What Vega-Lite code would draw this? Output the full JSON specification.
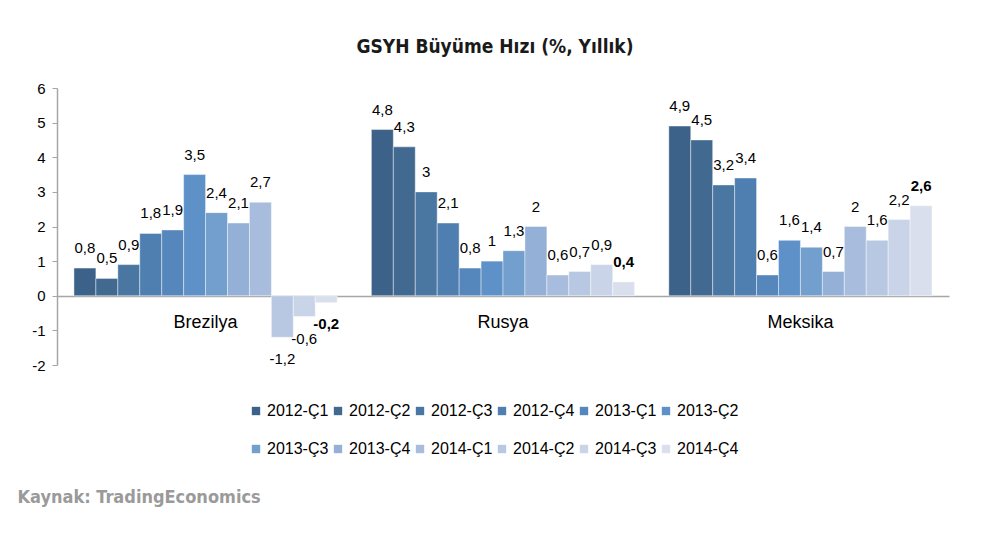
{
  "$schema": "https://vega.github.io/schema/vega-lite/v6.json",
  "width": 892,
  "height": 277,
  "autosize": {"type": "none"},
  "padding": {"left": 57, "top": 88, "right": 43, "bottom": 168},
  "background": "white",
  "config": {
    "locale": {"number": {"decimal": ",", "thousands": ".", "grouping": [3], "currency": ["", " TL"], "minus": "-"}},
    "view": {"stroke": null},
    "font": "Liberation Sans",
    "text": {"font": "Liberation Sans"},
    "axis": {"labelFont": "Liberation Sans"},
    "legend": {"labelFont": "Liberation Sans"}
  },
  "title": {"text": "GSYH Büyüme Hızı (%, Yıllık)", "font": "DejaVu Sans Condensed", "fontWeight": "bold", "fontSize": 19, "color": "#1a1a1a", "anchor": "middle", "offset": 24, "dx": -8},
  "data": {"values": [
    {"ulke": "Brezilya", "donem": "2012-Ç1", "deger": 0.8},
    {"ulke": "Brezilya", "donem": "2012-Ç2", "deger": 0.5},
    {"ulke": "Brezilya", "donem": "2012-Ç3", "deger": 0.9},
    {"ulke": "Brezilya", "donem": "2012-Ç4", "deger": 1.8},
    {"ulke": "Brezilya", "donem": "2013-Ç1", "deger": 1.9},
    {"ulke": "Brezilya", "donem": "2013-Ç2", "deger": 3.5},
    {"ulke": "Brezilya", "donem": "2013-Ç3", "deger": 2.4},
    {"ulke": "Brezilya", "donem": "2013-Ç4", "deger": 2.1},
    {"ulke": "Brezilya", "donem": "2014-Ç1", "deger": 2.7},
    {"ulke": "Brezilya", "donem": "2014-Ç2", "deger": -1.2},
    {"ulke": "Brezilya", "donem": "2014-Ç3", "deger": -0.6},
    {"ulke": "Brezilya", "donem": "2014-Ç4", "deger": -0.2},
    {"ulke": "Rusya", "donem": "2012-Ç1", "deger": 4.8},
    {"ulke": "Rusya", "donem": "2012-Ç2", "deger": 4.3},
    {"ulke": "Rusya", "donem": "2012-Ç3", "deger": 3},
    {"ulke": "Rusya", "donem": "2012-Ç4", "deger": 2.1},
    {"ulke": "Rusya", "donem": "2013-Ç1", "deger": 0.8},
    {"ulke": "Rusya", "donem": "2013-Ç2", "deger": 1},
    {"ulke": "Rusya", "donem": "2013-Ç3", "deger": 1.3},
    {"ulke": "Rusya", "donem": "2013-Ç4", "deger": 2},
    {"ulke": "Rusya", "donem": "2014-Ç1", "deger": 0.6},
    {"ulke": "Rusya", "donem": "2014-Ç2", "deger": 0.7},
    {"ulke": "Rusya", "donem": "2014-Ç3", "deger": 0.9},
    {"ulke": "Rusya", "donem": "2014-Ç4", "deger": 0.4},
    {"ulke": "Meksika", "donem": "2012-Ç1", "deger": 4.9},
    {"ulke": "Meksika", "donem": "2012-Ç2", "deger": 4.5},
    {"ulke": "Meksika", "donem": "2012-Ç3", "deger": 3.2},
    {"ulke": "Meksika", "donem": "2012-Ç4", "deger": 3.4},
    {"ulke": "Meksika", "donem": "2013-Ç1", "deger": 0.6},
    {"ulke": "Meksika", "donem": "2013-Ç2", "deger": 1.6},
    {"ulke": "Meksika", "donem": "2013-Ç3", "deger": 1.4},
    {"ulke": "Meksika", "donem": "2013-Ç4", "deger": 0.7},
    {"ulke": "Meksika", "donem": "2014-Ç1", "deger": 2},
    {"ulke": "Meksika", "donem": "2014-Ç2", "deger": 1.6},
    {"ulke": "Meksika", "donem": "2014-Ç3", "deger": 2.2},
    {"ulke": "Meksika", "donem": "2014-Ç4", "deger": 2.6}
  ]},
  "encoding": {
    "x": {
      "field": "ulke", "type": "nominal", "sort": ["Brezilya", "Rusya", "Meksika"],
      "scale": {"paddingInner": 0.115, "paddingOuter": 0.057},
      "axis": {
        "orient": "bottom", "offset": -69, "ticks": false, "labelAngle": 0,
        "labelFont": "Liberation Sans", "labelFontSize": 18, "labelColor": "#000", "labelPadding": 17, "labelBaseline": "top",
        "domainColor": "#a6a6a6", "domainWidth": 1.5,
        "title": "Kaynak: TradingEconomics", "titleX": -40, "titleY": 206, "titleAlign": "left",
        "titleBaseline": "alphabetic", "titleAnchor": "start", "titleFont": "DejaVu Sans Condensed",
        "titleFontWeight": "bold", "titleFontSize": 18, "titleColor": "#9a9a9a"
      }
    },
    "xOffset": {
      "field": "donem", "type": "nominal",
      "sort": ["2012-Ç1", "2012-Ç2", "2012-Ç3", "2012-Ç4", "2013-Ç1", "2013-Ç2", "2013-Ç3", "2013-Ç4", "2014-Ç1", "2014-Ç2", "2014-Ç3", "2014-Ç4"],
      "scale": {"paddingInner": 0, "paddingOuter": 0}
    },
    "y": {
      "field": "deger", "type": "quantitative",
      "scale": {"domain": [-2, 6], "nice": false, "zero": false},
      "axis": {
        "values": [-2, -1, 0, 1, 2, 3, 4, 5, 6], "format": "d", "grid": false, "title": null,
        "domainColor": "#a6a6a6", "domainWidth": 1.5, "tickColor": "#a6a6a6", "tickSize": 5,
        "labelFont": "Liberation Sans", "labelFontSize": 15, "labelColor": "#000", "labelPadding": 7
      }
    }
  },
  "layer": [
    {
      "mark": {"type": "bar", "stroke": "#ffffff", "strokeWidth": 0.7, "strokeOpacity": 0.6},
      "encoding": {
        "color": {
          "field": "donem", "type": "nominal",
          "sort": ["2012-Ç1", "2012-Ç2", "2012-Ç3", "2012-Ç4", "2013-Ç1", "2013-Ç2", "2013-Ç3", "2013-Ç4", "2014-Ç1", "2014-Ç2", "2014-Ç3", "2014-Ç4"],
          "scale": {"range": ["#3d6289", "#42698f", "#4a76a2", "#4f7fb0", "#5687bc", "#5e91c8", "#729fcd", "#94b0d6", "#a8bddd", "#b9c8e2", "#c9d4e8", "#d9dfec"]},
          "legend": {
            "orient": "none", "legendX": 191, "legendY": 315, "direction": "horizontal", "columns": 6,
            "title": null, "symbolType": "square", "symbolSize": 70, "symbolStrokeWidth": 0,
            "labelFont": "Liberation Sans", "labelFontSize": 16, "labelColor": "#000", "rowPadding": 22, "columnPadding": 1, "labelOffset": 3
          }
        }
      }
    },
    {
      "transform": [{"filter": "datum.deger >= 0 && datum.donem != '2014-Ç4'"}],
      "mark": {"type": "text", "baseline": "bottom", "dy": -12, "font": "Liberation Sans", "fontSize": 15, "color": "#000"},
      "encoding": {"text": {"field": "deger", "type": "quantitative", "format": ".1~f"}}
    },
    {
      "transform": [{"filter": "datum.deger < 0 && datum.donem != '2014-Ç4'"}],
      "mark": {"type": "text", "baseline": "top", "dy": 15, "font": "Liberation Sans", "fontSize": 15, "color": "#000"},
      "encoding": {"text": {"field": "deger", "type": "quantitative", "format": ".1~f"}}
    },
    {
      "transform": [{"filter": "datum.deger >= 0 && datum.donem == '2014-Ç4'"}],
      "mark": {"type": "text", "baseline": "bottom", "dy": -12, "font": "Liberation Sans", "fontSize": 15, "fontWeight": "bold", "color": "#000"},
      "encoding": {"text": {"field": "deger", "type": "quantitative", "format": ".1~f"}}
    },
    {
      "transform": [{"filter": "datum.deger < 0 && datum.donem == '2014-Ç4'"}],
      "mark": {"type": "text", "baseline": "top", "dy": 14, "font": "Liberation Sans", "fontSize": 15, "fontWeight": "bold", "color": "#000"},
      "encoding": {"text": {"field": "deger", "type": "quantitative", "format": ".1~f"}}
    }
  ]
}
